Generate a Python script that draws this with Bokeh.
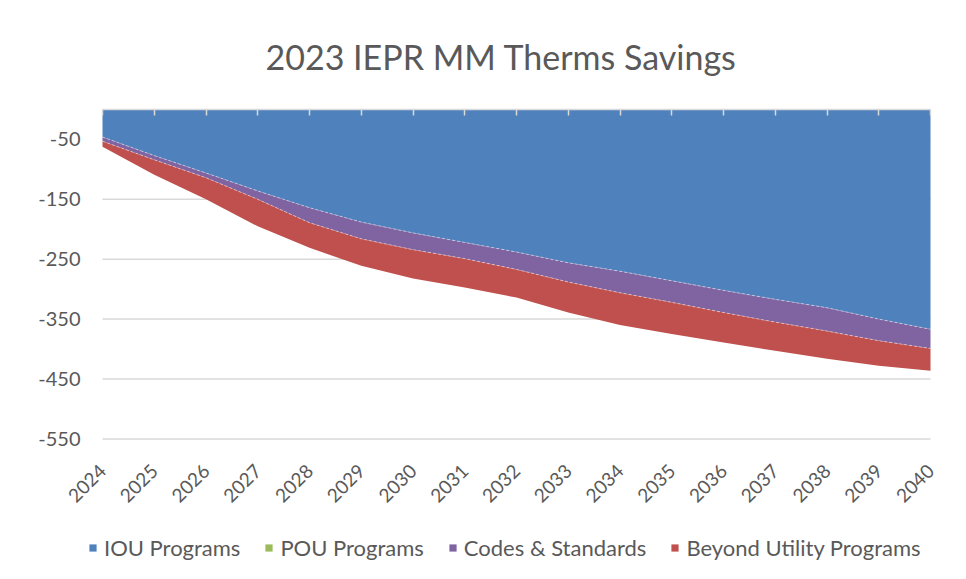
import numpy as np
from math import pi
from bokeh.plotting import figure
from bokeh.models import (Range1d, FixedTicker, Legend, LegendItem, LinearAxis,
                          ColumnDataSource)
from bokeh.embed import file_html
from bokeh.resources import INLINE

years = list(range(2024, 2041))
iou_programs = [-46, -77, -106, -136, -164, -188, -206, -222, -238, -256, -270, -286, -302, -317, -331, -350, -367]
pou_programs = [0, 0, 0, 0, 0, 0, 0, 0, 0, 0, 0, 0, 0, 0, 0, 0, 0]
codes_standards = [-7, -7, -8, -14, -25, -28, -28, -27, -29, -32, -36, -36, -37, -38, -39, -36, -32]
beyond_utility = [-9, -25, -36, -45, -42, -45, -48, -48, -47, -51, -54, -53, -50, -48, -46, -42, -37]
y_ticks = [-550, -450, -350, -250, -150, -50]
axis_min = -551
series_names = ["IOU Programs", "POU Programs", "Codes & Standards", "Beyond Utility Programs"]
colors = ["#4F81BD", "#9BBB59", "#8064A2", "#C0504D"]
title_text = "2023 IEPR MM Therms Savings"

FONT = "Lato"
TXT = "#595959"

src = ColumnDataSource(dict(x=years, iou=iou_programs, pou=pou_programs,
                            cs=codes_standards, bup=beyond_utility))

# layout constants (pixels)
FRAME_W, FRAME_H = 960, 472
PLOT_LEFT, PLOT_RIGHT = 102, 930
PLOT_H = 330
px_per_year = (PLOT_RIGHT - PLOT_LEFT) / (years[-1] - years[0])
x_start = years[0] - PLOT_LEFT / px_per_year
x_end = years[-1] + (FRAME_W - PLOT_RIGHT) / px_per_year
px_per_unit = PLOT_H / -axis_min
y_bottom = -FRAME_H / px_per_unit

p = figure(frame_width=FRAME_W, frame_height=FRAME_H, x_range=Range1d(x_start, x_end),
           y_range=Range1d(y_bottom, 0),
           output_backend="svg", toolbar_location=None,
           x_axis_location=None, y_axis_location=None,
           min_border_left=0, min_border_right=0, min_border_top=107, min_border_bottom=0)
p.grid.visible = False
p.outline_line_color = None
p.background_fill_color = "white"
p.border_fill_color = "white"

# horizontal gridlines spanning the plot area only
p.segment(x0=[years[0]] * len(y_ticks), x1=[years[-1]] * len(y_ticks), y0=y_ticks, y1=y_ticks,
          line_color="#D9D9D9", line_width=1.5)

renderers = p.varea_stack(["iou", "pou", "cs", "bup"], x="x", color=colors, source=src)

# thin light boundary lines between stacked areas
cum = np.cumsum(np.array([iou_programs, pou_programs, codes_standards, beyond_utility]), axis=0)
for row in (cum[0], cum[2]):
    p.line(years, list(row), line_color="white", line_alpha=0.6, line_width=0.8, line_dash="3 2")

# top axis line with inward ticks
top = LinearAxis(ticker=FixedTicker(ticks=years), bounds=(years[0], years[-1]),
                 axis_line_color="#D9D9D9", axis_line_width=1.5,
                 major_tick_line_color="#D9D9D9", major_tick_line_width=1.5,
                 major_tick_in=6, major_tick_out=0, minor_tick_line_color=None,
                 major_label_overrides={y: "" for y in years}, major_label_standoff=0)
p.add_layout(top, "above")

bottom = LinearAxis(ticker=FixedTicker(ticks=years), axis_line_color=None,
                    major_tick_line_color=None, minor_tick_line_color=None,
                    major_label_orientation=pi / 4, major_label_standoff=22,
                    major_label_text_font=FONT, major_label_text_font_size="19px",
                    major_label_text_color=TXT, fixed_location=axis_min)
p.add_layout(bottom, "below")

left = LinearAxis(ticker=FixedTicker(ticks=y_ticks), axis_line_color=None,
                  major_tick_line_color=None, minor_tick_line_color=None,
                  major_label_overrides={v: str(v) for v in y_ticks},
                  major_label_standoff=16, major_label_text_font=FONT,
                  major_label_text_font_size="20px", major_label_text_color=TXT,
                  fixed_location=years[0])
p.add_layout(left, "left")

p.title.text = title_text
p.title.align = "left"
p.title.offset = 265
p.title.text_font = FONT
p.title.text_font_size = "34px"
p.title.text_font_style = "normal"
p.title.text_color = TXT
p.title.standoff = 66

legend = Legend(items=[LegendItem(label=n, renderers=[r]) for n, r in zip(series_names, renderers)],
                orientation="horizontal", location=(88, 20), border_line_color=None,
                background_fill_alpha=0, glyph_width=9, glyph_height=9, label_standoff=7,
                spacing=24, label_text_font=FONT, label_text_font_size="22px",
                label_text_color=TXT, margin=0, padding=0)
p.add_layout(legend, "center")

open("out.html", "w").write(file_html(p, INLINE))
